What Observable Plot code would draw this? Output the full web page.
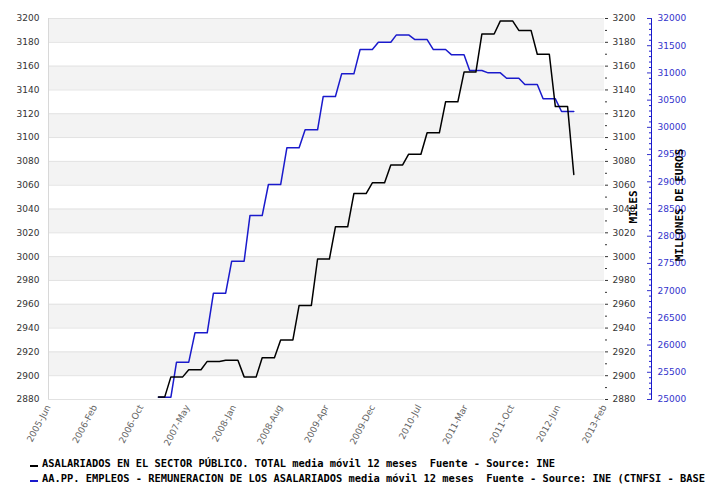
<!DOCTYPE html>
<html>
<head>
<meta charset="utf-8">
<script src="https://cdn.jsdelivr.net/npm/d3@7"></script>
<script src="https://cdn.jsdelivr.net/npm/@observablehq/plot@0.6"></script>
<style>
  body { margin: 0; background: #fff; width: 705px; overflow: hidden; }
  #legend { font-family: "DejaVu Sans Mono", monospace; font-weight: bold; font-size: 10.4px; color: #000; white-space: pre; overflow: hidden; width: 705px; }
  .row { height: 15px; line-height: 15px; position: relative; padding-left: 42px; }
  .sym { position: absolute; left: 30px; top: 9px; width: 8px; height: 2px; }
</style>
</head>
<body>
<div id="chart"></div>
<div id="legend"></div>
<script>
// Monthly dates (12-month moving average series)
const months = [
  "2006-12","2007-01","2007-02","2007-03","2007-04","2007-05","2007-06","2007-07","2007-08","2007-09","2007-10","2007-11",
  "2007-12","2008-01","2008-02","2008-03","2008-04","2008-05","2008-06","2008-07","2008-08","2008-09","2008-10","2008-11",
  "2008-12","2009-01","2009-02","2009-03","2009-04","2009-05","2009-06","2009-07","2009-08","2009-09","2009-10","2009-11",
  "2009-12","2010-01","2010-02","2010-03","2010-04","2010-05","2010-06","2010-07","2010-08","2010-09","2010-10","2010-11",
  "2010-12","2011-01","2011-02","2011-03","2011-04","2011-05","2011-06","2011-07","2011-08","2011-09","2011-10","2011-11",
  "2011-12","2012-01","2012-02","2012-03","2012-04","2012-05","2012-06","2012-07","2012-08"
];
// ASALARIADOS EN EL SECTOR PÚBLICO (miles) - left axis
const asalariados = [
  2882,2882,
  2899,2899,2899, 2905,2905,2905, 2912,2912,2912, 2913,2913,2913,
  2899,2899,2899, 2915,2915,2915, 2930,2930,2930, 2959,2959,2959,
  2998,2998,2998, 3025,3025,3025, 3053,3053,3053, 3062,3062,3062,
  3077,3077,3077, 3086,3086,3086, 3104,3104,3104, 3130,3130,3130,
  3155,3155,3155, 3187,3187,3187, 3198,3198,3198, 3190,3190,3190,
  3170,3170,3170, 3126,3126,3126,
  3069
];
// AA.PP. EMPLEOS - REMUNERACION (millones de euros) - right axis
const remuneracion = [
  25042,25042,25042, 25685,25685,25685, 26225,26225,26225, 26953,26953,26953,
  27541,27541,27541, 28380,28380,28380, 28950,28950,28950, 29624,29624,29624,
  29954,29954,29954, 30566,30566,30566, 30983,30983,30983, 31430,31430,31430,
  31564,31564,31564, 31699,31699,31699, 31613,31613,31613, 31430,31430,31430,
  31332,31332,31332, 31044,31044,31044, 31001,31001,31001, 30902,30902,30902,
  30787,30787,30787, 30524,30524,30524, 30291,30291,30291
];
const xTickLabels = ["2005-Jun","2006-Feb","2006-Oct","2007-May","2008-Jan","2008-Aug","2009-Apr",
  "2009-Dec","2010-Jul","2011-Mar","2011-Oct","2012-Jun","2013-Feb"];
const leftTicks = [2880,2900,2920,2940,2960,2980,3000,3020,3040,3060,3080,3100,3120,3140,3160,3180,3200];
const rightTicks = [25000,25500,26000,26500,27000,27500,28000,28500,29000,29500,30000,30500,31000,31500,32000];
const legendItems = [
  {label: "ASALARIADOS EN EL SECTOR PÚBLICO. TOTAL media móvil 12 meses  Fuente - Source: INE", color: "#000000"},
  {label: "AA.PP. EMPLEOS - REMUNERACION DE LOS ASALARIADOS media móvil 12 meses  Fuente - Source: INE (CTNFSI - BASE 2008)", color: "#1a1acc"}
];

const BLUE = "#1a1acc";
const parse = d3.utcParse("%Y-%m");
const xStart = new Date(Date.UTC(2005, 5, 1));
const xEnd = new Date(Date.UTC(2013, 0, 1));
const xTicks = xTickLabels.map((_, k) => new Date(+xStart + k * (xEnd - xStart) / (xTickLabels.length - 1)));
const labelOf = new Map(xTicks.map((d, i) => [+d, xTickLabels[i]]));

// dual axis mapping: right (25000..32000) onto left (2880..3200)
const toLeft = v => 2880 + (v - 25000) * 320 / 7000;
const toRight = v => String(Math.round(25000 + (v - 2880) * 7000 / 320));

const black = months.map((m, i) => ({date: parse(m), v: asalariados[i]}));
const blue = months.map((m, i) => ({date: parse(m), v: toLeft(remuneracion[i])}));

const bands = leftTicks.filter((d, i) => i % 2 === 1 && d < 3200);
const minorLeft = d3.range(2890, 3200, 20);
const minorRight = d3.range(25000, 32001, 100).filter(v => v % 500 !== 0).map(toLeft);
const noText = () => "";
const plain = d => String(d);

const chart = Plot.plot({
  width: 705,
  height: 456,
  marginLeft: 48,
  marginRight: 101,
  marginTop: 18,
  marginBottom: 57,
  style: {fontFamily: "DejaVu Sans, sans-serif", fontSize: "9px", background: "#fff"},
  x: {type: "utc", domain: [xStart, xEnd]},
  y: {domain: [2880, 3200]},
  marks: [
    Plot.rect(bands, {x1: xStart, x2: xEnd, y1: d => d, y2: d => d + 20, fill: "#f3f3f3"}),
    Plot.ruleY(leftTicks, {stroke: "#e2e2e2"}),
    Plot.ruleX([xStart], {stroke: "#d8d8d8"}),
    Plot.axisX({ticks: xTicks, tickFormat: d => labelOf.get(+d), tickRotate: -62, tickSize: 0, tickPadding: 6, color: "#666", label: null}),
    Plot.axisY({anchor: "left", ticks: leftTicks, tickFormat: plain, tickSize: 0, tickPadding: 9, color: "#333", label: null}),
    Plot.axisY({anchor: "right", ticks: leftTicks, tickFormat: plain, tickSize: 3, tickPadding: 5, color: "#333", label: null}),
    Plot.axisY({anchor: "right", ticks: minorLeft, tickSize: 2, tickFormat: noText, stroke: "#333", label: null}),
    Plot.ruleX([xEnd], {dx: 47, stroke: BLUE}),
    Plot.axisY({anchor: "right", ticks: rightTicks.map(toLeft), tickFormat: toRight, dx: 42, tickSize: 5, tickPadding: 6, color: "#3333cc", label: null}),
    Plot.axisY({anchor: "right", ticks: minorRight, tickFormat: noText, dx: 44, tickSize: 3, stroke: BLUE, label: null}),
    Plot.text(["MILES"], {frameAnchor: "right", textAnchor: "middle", dx: 29, dy: -2, rotate: -90, fontFamily: "DejaVu Sans Mono", fontWeight: "bold", fontSize: 11, fill: "#000"}),
    Plot.text(["MILLONES DE EUROS"], {frameAnchor: "right", textAnchor: "middle", dx: 75, dy: -4, rotate: -90, fontFamily: "DejaVu Sans Mono", fontWeight: "bold", fontSize: 11, fill: "#000"}),
    Plot.line(blue, {x: "date", y: "v", stroke: BLUE, strokeWidth: 1.5}),
    Plot.line(black, {x: "date", y: "v", stroke: "#000", strokeWidth: 1.5})
  ]
});
document.getElementById("chart").appendChild(chart);

const legend = document.getElementById("legend");
for (const item of legendItems) {
  const row = document.createElement("div");
  row.className = "row";
  const sym = document.createElement("span");
  sym.className = "sym";
  sym.style.background = item.color;
  row.appendChild(sym);
  row.appendChild(document.createTextNode(item.label));
  legend.appendChild(row);
}
</script>
</body>
</html>
